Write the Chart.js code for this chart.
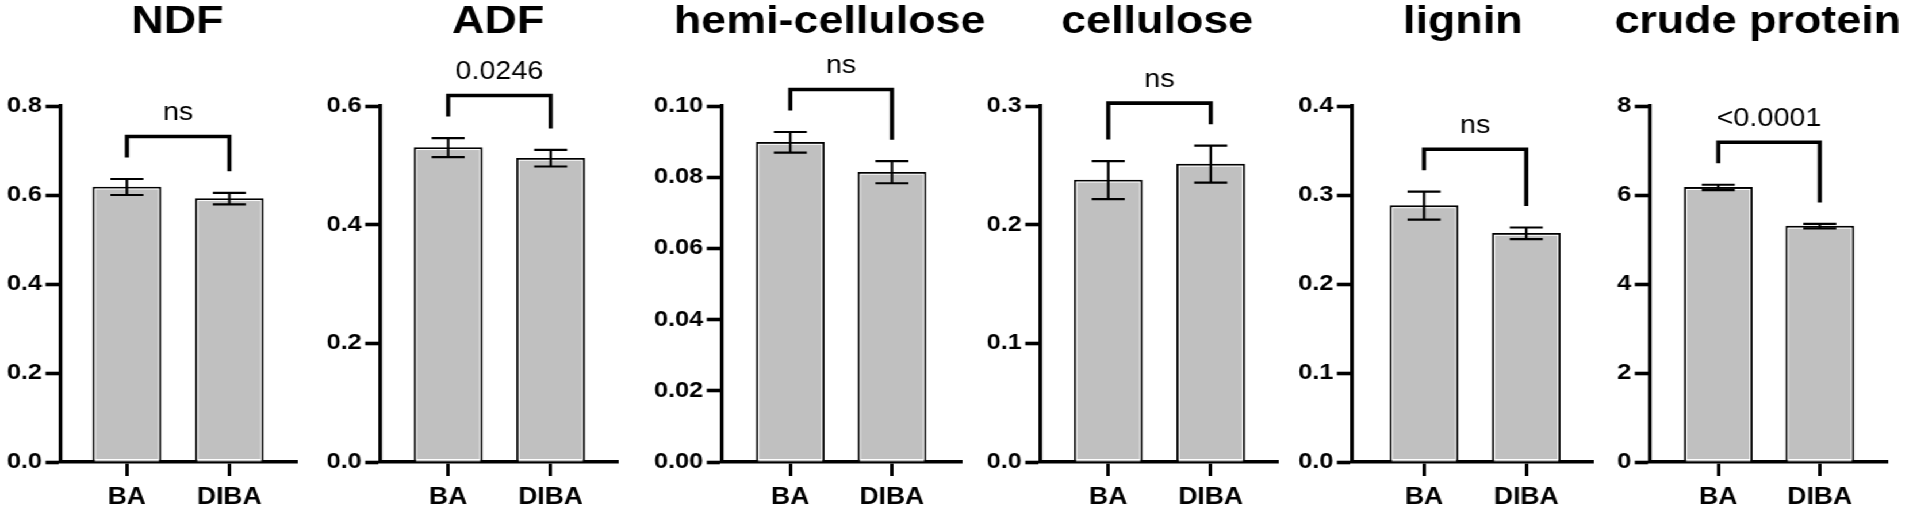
<!DOCTYPE html>
<html>
<head>
<meta charset="utf-8">
<script src="https://cdn.jsdelivr.net/npm/chart.js@4.4.1/dist/chart.umd.min.js"></script>
<style>
  html, body { margin: 0; padding: 0; background: #fff; overflow: hidden; }
  #wrap { position: absolute; left: 0; top: 0; height: 508px; transform-origin: 0 0; }
  #wrap canvas { position: absolute; top: 0; }
</style>
</head>
<body>
<div id="wrap"></div>
<script>
// Data
const groups = ['BA', 'DIBA'];
const titles = ['NDF', 'ADF', 'hemi-cellulose', 'cellulose', 'lignin', 'crude protein'];
const baMeans = [0.618, 0.530, 0.0898, 0.2376, 0.288, 6.17];
const dibaMeans = [0.592, 0.512, 0.0814, 0.251, 0.257, 5.30];
const baSem = [0.018, 0.016, 0.0029, 0.016, 0.0157, 0.06];
const dibaSem = [0.013, 0.014, 0.0031, 0.0156, 0.0065, 0.05];
const pLabels = ['ns', '0.0246', 'ns', 'ns', 'ns', '<0.0001'];
const yMax = [0.8, 0.6, 0.10, 0.3, 0.4, 8];
const yStep = [0.2, 0.2, 0.02, 0.1, 0.1, 2];
const yDecimals = [1, 1, 2, 1, 1, 0];

// Layout (reference pixels): y axis x, x axis end, group centres, title centre
const S = 1.15; // horizontal stretch of the original export
const panels = [
  { axis: 60,   end: 297,  c0: 126.5, c1: 229,   titleX: 177 },
  { axis: 380,  end: 618,  c0: 448,   c1: 550.5, titleX: 498 },
  { axis: 722,  end: 962,  c0: 790.5, c1: 892,   titleX: 830 },
  { axis: 1040, end: 1278, c0: 1108,  c1: 1210.5, titleX: 1157 },
  { axis: 1352, end: 1593, c0: 1424,  c1: 1526,  titleX: 1463 },
  { axis: 1650, end: 1888, c0: 1718.5, c1: 1820, titleX: 1758 }
];
const AXIS_W = 80;

const FONT = '"Liberation Sans", Arial, Helvetica, sans-serif';
const wrap = document.getElementById('wrap');
wrap.style.width = (1908 / S) + 'px';
wrap.style.transform = 'scaleX(' + S + ')';

function makePanel(i) {
  const p = panels[i];
  const left = p.axis - AXIS_W;
  const right = Math.min(1908, p.end + 35);
  const canvas = document.createElement('canvas');
  canvas.width = Math.round((right - left) / S);
  canvas.height = 508;
  canvas.style.left = (left / S) + 'px';
  wrap.appendChild(canvas);

  const span = p.c1 - p.c0;
  const means = [baMeans[i], dibaMeans[i]];
  const sems = [baSem[i], dibaSem[i]];

  // error bars, bracket, p label and title
  const annot = {
    id: 'annot' + i,
    afterDatasetsDraw(chart) {
      const ctx = chart.ctx;
      const y = chart.scales.y;
      const bars = chart.getDatasetMeta(0).data;
      const tops = [];
      ctx.save();

      // thin white line just inside each bar outline
      ctx.strokeStyle = '#fff';
      ctx.lineWidth = 1;
      bars.forEach(bar => {
        const w = bar.width / 2 - 2;
        ctx.strokeRect(bar.x - w, bar.y + 2, w * 2, bar.base - bar.y - 4);
      });

      ctx.strokeStyle = '#000';
      ctx.lineWidth = 2.2;
      bars.forEach((bar, k) => {
        const yt = y.getPixelForValue(means[k] + sems[k]);
        const yb = y.getPixelForValue(means[k] - sems[k]);
        const cap = 16.5 / S;
        tops.push(yt);
        ctx.beginPath();
        ctx.moveTo(bar.x, yt); ctx.lineTo(bar.x, yb);
        ctx.moveTo(bar.x - cap, yt); ctx.lineTo(bar.x + cap, yt);
        ctx.moveTo(bar.x - cap, yb); ctx.lineTo(bar.x + cap, yb);
        ctx.stroke();
      });

      const legs = tops.map(t => t - 21.5);
      const by = Math.min(legs[0], legs[1]) - 21;
      ctx.lineWidth = 3.6;
      ctx.lineJoin = 'miter';
      ctx.beginPath();
      ctx.moveTo(bars[0].x, legs[0]);
      ctx.lineTo(bars[0].x, by);
      ctx.lineTo(bars[1].x, by);
      ctx.lineTo(bars[1].x, legs[1]);
      ctx.stroke();

      ctx.fillStyle = '#000';
      ctx.textAlign = 'center';
      ctx.textBaseline = 'alphabetic';
      ctx.font = '25px ' + FONT;
      ctx.fillText(pLabels[i], (bars[0].x + bars[1].x) / 2, by - 16.5);

      ctx.font = 'bold 39px ' + FONT;
      ctx.fillText(titles[i], (p.titleX - left) / S, 33);
      ctx.restore();
    }
  };

  new Chart(canvas, {
    type: 'bar',
    data: {
      datasets: [{
        data: groups.map((g, k) => ({ x: k, y: means[k] })),
        backgroundColor: '#c0c0c0',
        borderColor: '#000',
        borderWidth: 2,
        barThickness: 68 / S
      }]
    },
    options: {
      responsive: false,
      animation: false,
      events: [],
      layout: { padding: { top: 106, right: (right - p.end) / S, bottom: 0, left: 0 } },
      plugins: { legend: { display: false }, tooltip: { enabled: false } },
      scales: {
        x: {
          type: 'linear',
          offset: false,
          min: -(p.c0 - p.axis) / span,
          max: 1 + (p.end - p.c1) / span,
          afterBuildTicks: s => { s.ticks = [{ value: 0 }, { value: 1 }]; },
          afterFit: s => { s.height = 46; },
          ticks: {
            callback: v => groups[v],
            color: '#000',
            font: { family: FONT, size: 23, weight: 'bold' },
            padding: 8,
            maxRotation: 0,
            autoSkip: false
          },
          grid: { offset: false, drawOnChartArea: false, drawTicks: true, tickLength: 14, tickWidth: 3, tickColor: '#000' },
          border: { display: true, color: '#000', width: 3.6 }
        },
        y: {
          min: 0,
          max: yMax[i],
          afterFit: s => { s.width = AXIS_W / S; },
          ticks: {
            stepSize: yStep[i],
            callback: v => Number(v).toFixed(yDecimals[i]),
            color: '#000',
            font: { family: FONT, size: 22, weight: 'bold' },
            padding: 3
          },
          grid: { drawOnChartArea: false, drawTicks: true, tickLength: 13, tickWidth: 3.6, tickColor: '#000' },
          border: { display: true, color: '#000', width: 3.2 }
        }
      }
    },
    plugins: [annot]
  });
}

for (let i = 0; i < panels.length; i++) makePanel(i);
</script>
</body>
</html>
